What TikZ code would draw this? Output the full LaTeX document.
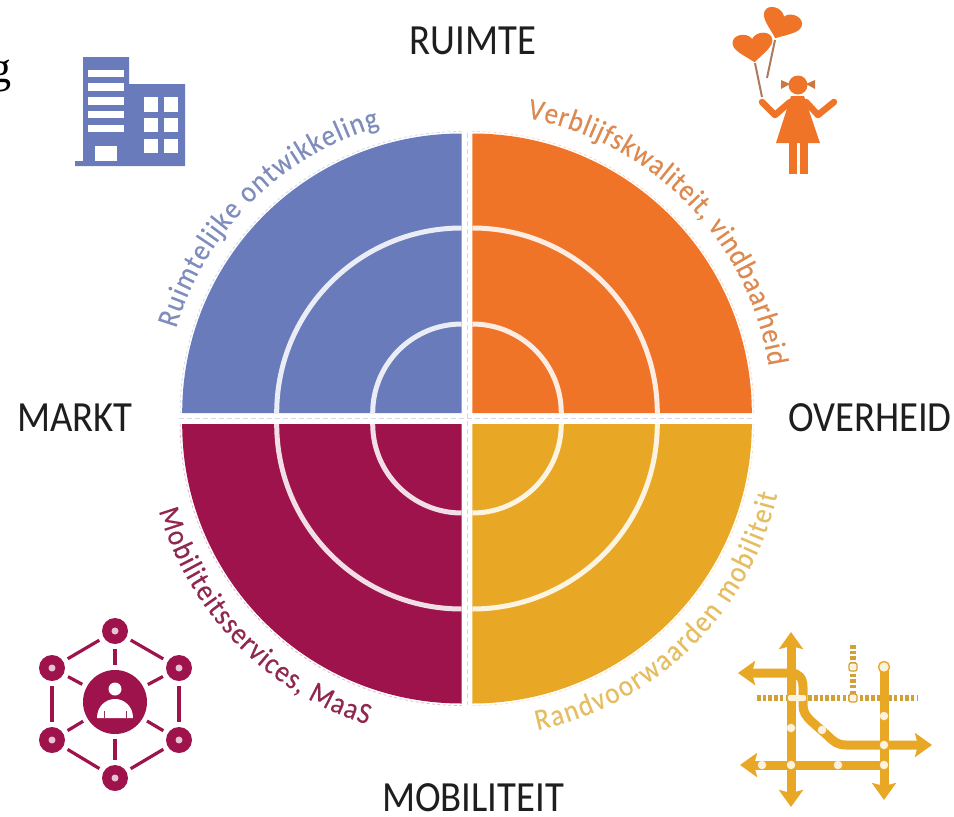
\documentclass[tikz,border=0pt]{standalone}
\usepackage{fontspec}
\setmainfont{Carlito}
\newfontfamily\serifg{Liberation Serif}
\newfontfamily\narrowfont[FakeStretch=0.9]{Carlito}
\newfontfamily\arcfont[FakeStretch=0.9,FakeBold=0.25]{Carlito}
\usetikzlibrary{decorations.text,arrows.meta,calc}
\definecolor{cblue}{HTML}{6A7BBB}
\definecolor{corange}{HTML}{F07428}
\definecolor{cwine}{HTML}{9E134C}
\definecolor{cgold}{HTML}{E8A826}
\definecolor{tblue}{HTML}{7F8DBC}
\definecolor{torange}{HTML}{DD8A52}
\definecolor{twine}{HTML}{90274F}
\definecolor{tgold}{HTML}{E6BE62}
\definecolor{ink}{HTML}{1E1E1E}
\newcommand{\quadrant}[4]{%
  \begin{scope}[shift={(#1,#2)}]
    \fill[#4] (0,0) -- (#3:279.5pt) arc (#3:#3+90:279.5pt) -- cycle;
    \draw[#4!30!white,line width=.8pt,dash pattern=on 3pt off 2.5pt] (#3:281.5pt) arc (#3:#3+90:281.5pt);
    \draw[#4!14!white,line width=5pt] (#3:185pt) arc (#3:#3+90:185pt);
    \draw[#4!14!white,line width=5pt] (#3:89pt) arc (#3:#3+90:89pt);
  \end{scope}}
\newcommand{\curvedtext}[7]{% cx cy start end r colour text
  \path[decorate,decoration={text along path,text align={fit to path},
    text={|\arcfont\fontsize{30}{30}\selectfont\color{#6}|#7}}]
    ($(#1,#2)+(#3:#5pt)$) arc (#3:#4:#5pt);}
\newcommand{\heartshape}[3]{%
  \fill[corange,shift={(#1,#2)},rotate=#3,yscale=.9] (0,-17) .. controls (-10,-8) and (-20,-2) .. (-20,6)
    .. controls (-20,16) and (-5,18) .. (0,9) .. controls (5,18) and (20,16) .. (20,6)
    .. controls (20,-2) and (10,-8) .. (0,-17) -- cycle;}
\tikzset{
  x=1pt,y=1pt,
  biglabel/.style={font=\narrowfont\fontsize{43}{43}\selectfont,text=ink,inner sep=0pt},
  hub/.style={circle,fill=cwine,minimum size=26pt,inner sep=0pt},
  hublink/.style={cwine,line width=3.2pt,shorten <=5pt,shorten >=5pt},
  road/.style={cgold,line width=9pt},
  roadends/.style={road,arrows={-{Stealth[inset=3pt,length=17pt,width=24pt]}}},
  roaddots/.style={cgold!80!gray,line width=5.5pt,dash pattern=on 3.5pt off 2.2pt},
  roadstop/.style={circle,fill=white!85!cgold,inner sep=0pt,minimum size=8.5pt},
  gapline/.style={blue!25!gray!25!white,line width=.8pt,dash pattern=on 5pt off 3pt},
}
\begin{document}
\begin{tikzpicture}
\useasboundingbox (0,0) rectangle (954,-817);
\fill[white] (0,0) rectangle (954,-817);
% stray letter
\node[anchor=base east,inner sep=0pt,font=\serifg\fontsize{44}{44}\selectfont,text=black] (stray) at (12,-82) {g};
% quadrants
\quadrant{461.7}{-413}{90}{cblue}
\quadrant{472.3}{-413}{0}{corange}
\quadrant{461.7}{-424}{180}{cwine}
\quadrant{472.3}{-424}{270}{cgold}
\draw[gapline] (179,-418.5) -- (755,-418.5);
\draw[gapline] (467,-133) -- (467,-705);
% curved labels
\curvedtext{461.7}{-413}{163.5}{106}{298}{tblue}{Ruimtelijke ontwikkeling}
\curvedtext{472.3}{-413}{79.5}{9}{300}{torange}{Verblijfskwaliteit, vindbaarheid}
\curvedtext{461.7}{-424}{196}{252.5}{315}{twine}{Mobiliteitsservices, MaaS}
\curvedtext{472.3}{-424}{282}{347}{313}{tgold}{Randvoorwaarden mobiliteit}
% axis labels
\node[biglabel] (ruimte) at (473,-41) {RUIMTE};
\node[biglabel] (markt) at (75,-418) {MARKT};
\node[biglabel] (overheid) at (870,-418) {OVERHEID};
\node[biglabel] (mobiliteit) at (473,-798) {MOBILITEIT};
% building
\fill[cblue] (83,-57) -- (129,-57) -- (129,-84) -- (185,-84) -- (185,-166) -- (75,-166) -- (75,-161) -- (83,-161) -- cycle;
\foreach \a/\b in {70/77,83/91,97/105,111/118,125/132}
  \fill[white] (88,-\a) rectangle (124,-\b);
\fill[white] (95,-146) rectangle (117,-161);
\foreach \a/\b in {144/158,164/178}
  \foreach \c/\d in {97/112,118/132,139/153}
    \fill[white] (\a,-\c) rectangle (\b,-\d);
% girl with balloons
\draw[gray!60!corange,line width=2pt] (755,-63) -- (762,-97);
\draw[gray!60!corange,line width=2pt] (775,-40) -- (767,-78);
\heartshape{781}{-24}{-22}
\heartshape{753}{-47}{6}
\fill[corange] (798,-85) circle (9.5pt);
\fill[corange!70!gray] (781,-80) -- (790,-84) -- (781,-89) -- cycle;
\fill[corange!70!gray] (815,-80) -- (806,-84) -- (815,-89) -- cycle;
\fill[corange] (791,-96) -- (804,-96) -- (820,-143) -- (776,-143) -- cycle;
\draw[corange,line width=6.5pt,line cap=round,line join=round] (790,-102) -- (775,-115) -- (762,-102);
\draw[corange,line width=6.5pt,line cap=round,line join=round] (806,-102) -- (818,-115) -- (834,-102);
\fill[corange] (789,-143) rectangle (797,-174);
\fill[corange] (800,-143) rectangle (808,-174);
% network
\node[circle,fill=cwine,minimum size=64pt,inner sep=0pt] (hubc) at (115,-702) {};
\foreach \n/\x/\y in {hubt/115/631,hubul/52/668,hubur/179/668,hubll/52/740,hublr/179/740,hubb/115/778}{
  \node[hub] (\n) at (\x,-\y) {};
  \fill[white!75!cwine] (\x,-\y) circle (3.5pt);
}
\foreach \p/\q in {hubt/hubul,hubt/hubur,hubul/hubll,hubur/hublr,hubll/hubb,hublr/hubb,hubc/hubt,hubc/hubb,hubc/hubul,hubc/hubur,hubc/hubll,hubc/hublr}
  \draw[hublink] (\p) -- (\q);
\fill[white] (115,-689) circle (6.5pt);
\fill[white] (97,-718) .. controls (97,-706) and (106,-699) .. (115,-699) .. controls (124,-699) and (133,-706) .. (133,-718) -- cycle;
\draw[cwine!70!gray,line width=1pt] (104,-711) -- (104,-718);
\draw[cwine!70!gray,line width=1pt] (126,-711) -- (126,-718);
% road map
\draw[roaddots] (757,-698) -- (918,-698);
\draw[roaddots] (853,-645) -- (853,-700);
\draw[road,arrows={{Stealth[inset=3pt,length=17pt,width=24pt]}-{Stealth[inset=3pt,length=17pt,width=24pt]}}] (791,-632) -- (791,-807);
\draw[road,arrows={{Stealth[inset=3pt,length=17pt,width=24pt]}-{Stealth[inset=3pt,length=17pt,width=24pt]}}] (738,-673) -- (790,-673) .. controls (799,-673) and (803,-678) .. (803,-687) -- (803,-705) .. controls (803,-712) and (806,-716) .. (811,-721) -- (828,-736) .. controls (834,-742) and (838,-745) .. (846,-745) -- (932,-745);
\draw[road,arrows={{Stealth[inset=3pt,length=17pt,width=24pt]}-}] (740,-765) -- (884,-765);
\draw[roadends] (884,-667) -- (884,-800);
\draw[white!85!cgold,line width=1.6pt] (796.5,-681) -- (796.5,-703);
\fill[white!85!cgold,rounded corners=2pt] (788,-695) rectangle (806,-701);
\node[circle,draw=cgold,line width=1.4pt,fill=white!85!cgold,inner sep=0pt,minimum size=11pt] (roadtop) at (884,-667) {};
\foreach \n/\x/\y in {ra/791/728,rb/822/730,rc/884/716,rd/884/745,re/884/765,rf/791/765,rg/838/765,rh/762/765}
  \node[roadstop] (\n) at (\x,-\y) {};
\node[draw=cgold!80!gray,line width=1.2pt,fill=white!85!cgold,rounded corners=2pt,inner sep=0pt,minimum size=8pt] (sqa) at (853,-667) {};
\node[draw=cgold!80!gray,line width=1.2pt,fill=white!85!cgold,rounded corners=2pt,inner sep=0pt,minimum size=8pt] (sqb) at (853,-698) {};
\end{tikzpicture}
\end{document}
